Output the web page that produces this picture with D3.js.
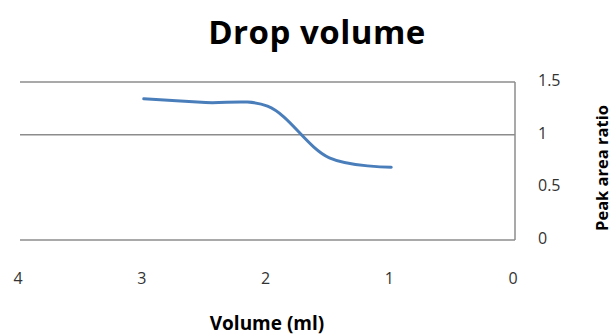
<!DOCTYPE html>
<html>
<head>
<meta charset="utf-8">
<script src="https://d3js.org/d3.v7.min.js"></script>
<style>
  body { margin: 0; background: #fff; }
  text { font-family: "Open Sans", "Liberation Sans", sans-serif; }
</style>
</head>
<body>
<div id="chart"></div>
<script>
// data
const volumes = [3, 2.5, 2, 1.5, 1];
const ratios = [1.34, 1.305, 1.27, 0.78, 0.69];
const xTicks = [4, 3, 2, 1, 0];
const yTicks = [0, 0.5, 1, 1.5];
const gridValues = [0, 1, 1.5];   // the 0.5 gridline is not drawn in the reference

const width = 616, height = 335;
const margin = { top: 82, right: 101, bottom: 95, left: 20 };

const svg = d3.select("#chart").append("svg")
    .attr("width", width).attr("height", height);

const x = d3.scaleLinear().domain([4, 0]).range([margin.left, width - margin.right]);
const y = d3.scaleLinear().domain([0, 1.5]).range([height - margin.bottom, margin.top]);

// gridlines
svg.append("g").selectAll("line").data(gridValues).join("line")
    .attr("x1", x(4)).attr("x2", x(0))
    .attr("y1", d => y(d)).attr("y2", d => y(d))
    .attr("stroke", "#8c8c8c").attr("stroke-width", 1.5);

// right axis line
svg.append("line")
    .attr("x1", x(0)).attr("x2", x(0))
    .attr("y1", y(0)).attr("y2", y(1.5))
    .attr("stroke", "#8c8c8c").attr("stroke-width", 1.5);

// x tick labels
svg.append("g").selectAll("text").data(xTicks).join("text")
    .attr("x", d => x(d) - 2).attr("y", 284)
    .attr("text-anchor", "middle")
    .attr("font-size", 16).attr("fill", "#333")
    .text(d => d);

// y tick labels (right side)
svg.append("g").selectAll("text").data(yTicks).join("text")
    .attr("x", 538).attr("y", d => y(d))
    .attr("dy", "0.25em")
    .attr("font-size", 16).attr("fill", "#333")
    .text(d => d);

// series
const line = d3.line()
    .x((d, i) => x(volumes[i]))
    .y(d => y(d))
    .curve(d3.curveCatmullRom.alpha(0.5));

svg.append("path")
    .datum(ratios)
    .attr("d", line)
    .attr("fill", "none")
    .attr("stroke", "#4a7ebb")
    .attr("stroke-width", 3)
    .attr("stroke-linecap", "round");

// titles
svg.append("text")
    .attr("x", 317).attr("y", 44)
    .attr("text-anchor", "middle")
    .attr("font-size", 33).attr("font-weight", "bold")
    .attr("letter-spacing", 0.5)
    .text("Drop volume");

svg.append("text")
    .attr("x", 267).attr("y", 330)
    .attr("text-anchor", "middle")
    .attr("font-size", 19).attr("font-weight", "bold")
    .text("Volume (ml)");

svg.append("text")
    .attr("transform", "translate(608,168) rotate(-90)")
    .attr("text-anchor", "middle")
    .attr("font-size", 16.5).attr("font-weight", "bold")
    .text("Peak area ratio");
</script>
</body>
</html>
